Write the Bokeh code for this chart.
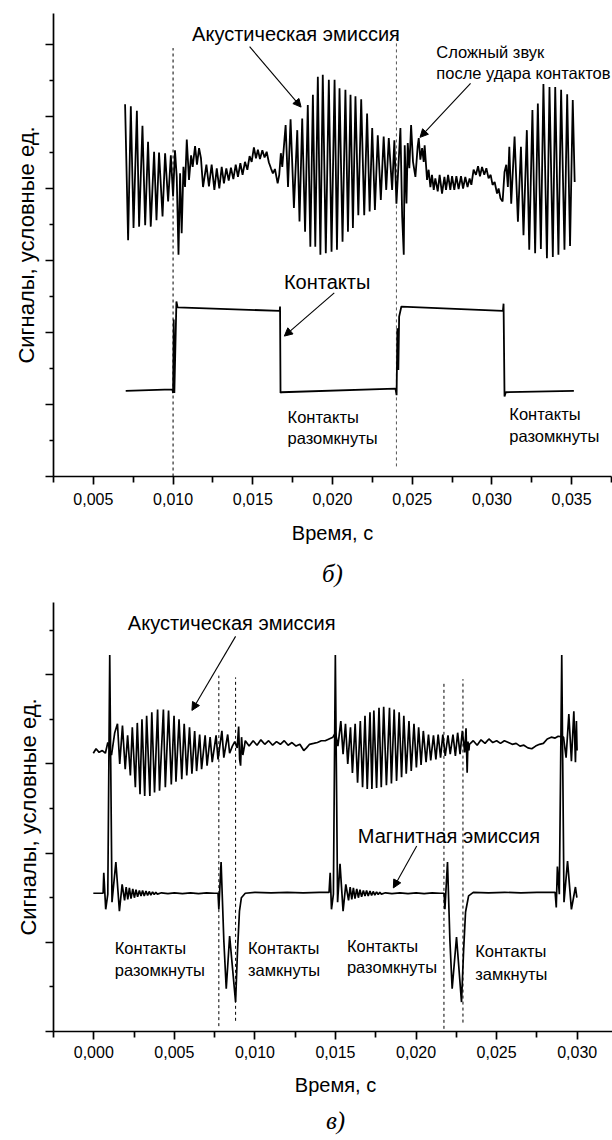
from bokeh.plotting import figure
from bokeh.models import (FixedTicker, CustomJSTickFormatter, Label, Arrow,
                          NormalHead, Range1d, Title)
from bokeh.layouts import column
from bokeh.embed import file_html
from bokeh.resources import INLINE

SANS = "Liberation Sans"
SERIF = "Liberation Serif"
MS = 1e-3  # data below is given in milliseconds

# ---------------- panel "б" ----------------
b_xticks = [0.005, 0.010, 0.015, 0.020, 0.025, 0.030, 0.035]
b_xminor = [0.0025, 0.0075, 0.0125, 0.0175, 0.0225, 0.0275, 0.0325, 0.0375]
b_yticks = [0, 1, 2, 3, 4, 5, 6]
b_yminor = [0.5, 1.5, 2.5, 3.5, 4.5, 5.5]

# acoustic emission (time ms, signal units)
b_acoustic = [
    (6.99, 5.17), (7.18, 3.28), (7.35, 5.14), (7.52, 3.45), (7.73, 5.08), (7.87, 3.47),
    (8.08, 4.87), (8.25, 3.49), (8.43, 4.65), (8.60, 3.47), (8.81, 4.51), (8.96, 3.56),
    (9.12, 4.50), (9.34, 3.61), (9.50, 4.49), (9.69, 3.82), (9.86, 4.46),
    (10.00, 3.89), (10.12, 4.53), (10.23, 4.16), (10.34, 3.08), (10.44, 4.21), (10.54, 3.38),
    (10.65, 4.30), (10.75, 4.02), (10.86, 4.68), (11.00, 4.12), (11.13, 4.46), (11.23, 4.30),
    (11.38, 4.59), (11.50, 4.33), (11.63, 4.56), (11.75, 4.42), (11.88, 4.02),
    (12.09, 4.33), (12.25, 4.03), (12.42, 4.33), (12.59, 3.98), (12.74, 4.28), (12.90, 4.00),
    (13.05, 4.30), (13.19, 4.07), (13.34, 4.28), (13.49, 4.11), (13.63, 4.29), (13.78, 4.13),
    (13.93, 4.33), (14.07, 4.16), (14.22, 4.35), (14.36, 4.19), (14.51, 4.37), (14.66, 4.26),
    (14.80, 4.45), (14.93, 4.37), (15.07, 4.57), (15.20, 4.42), (15.32, 4.54), (15.45, 4.41),
    (15.60, 4.53), (15.74, 4.43), (15.87, 4.51), (16.01, 4.36), (16.14, 4.28), (16.26, 4.21),
    (16.39, 4.27), (16.56, 4.07), (16.66, 4.19), (16.76, 4.49), (16.85, 4.30),
    (17.06, 4.88), (17.21, 4.02), (17.37, 4.96), (17.58, 3.73), (17.79, 4.81), (17.93, 3.54),
    (18.10, 4.97), (18.28, 3.40), (18.45, 5.16), (18.61, 3.19), (18.77, 5.30), (18.92, 3.19),
    (19.08, 5.55), (19.24, 3.08), (19.39, 5.58), (19.58, 3.10), (19.77, 5.51), (19.94, 3.12),
    (20.13, 5.51), (20.28, 3.15), (20.44, 5.39), (20.63, 3.26), (20.81, 5.37), (20.97, 3.40),
    (21.13, 5.30), (21.28, 3.45), (21.44, 5.28), (21.62, 3.63), (21.80, 5.24), (21.99, 3.63),
    (22.17, 5.04), (22.33, 3.68), (22.49, 4.84), (22.66, 3.70), (22.84, 4.74), (23.03, 3.84),
    (23.21, 4.72), (23.37, 3.98), (23.53, 4.70), (23.74, 3.98), (23.88, 4.67),
    (24.01, 3.79), (24.26, 4.84), (24.37, 3.61), (24.47, 3.08), (24.53, 4.60), (24.64, 3.79),
    (24.72, 4.63), (24.82, 4.28), (24.93, 4.88), (25.05, 4.37), (25.20, 4.16), (25.34, 4.58),
    (25.41, 4.70), (25.51, 4.40), (25.62, 4.56), (25.72, 4.37), (25.78, 4.60), (25.93, 4.12),
    (26.03, 4.26), (26.14, 4.02), (26.24, 4.19), (26.35, 3.98), (26.45, 4.14), (26.60, 3.96),
    (26.72, 4.19), (26.87, 3.93), (27.02, 4.16), (27.12, 3.98), (27.25, 4.19), (27.39, 3.98),
    (27.50, 4.17), (27.64, 3.98), (27.77, 4.17), (27.91, 3.99), (28.06, 4.17), (28.19, 4.00),
    (28.33, 4.16), (28.47, 4.02), (28.60, 4.14), (28.71, 4.05), (28.85, 4.26), (29.00, 4.19),
    (29.13, 4.31), (29.25, 4.17), (29.38, 4.30), (29.52, 4.19), (29.65, 4.28), (29.79, 4.14),
    (29.92, 4.19), (30.04, 4.05), (30.17, 4.09), (30.32, 3.93), (30.42, 4.00), (30.54, 3.86),
    (30.67, 3.82), (30.79, 4.23),
    (30.90, 4.33), (31.00, 4.02), (31.09, 4.58), (31.21, 3.79), (31.42, 4.72), (31.63, 3.54),
    (31.82, 4.58), (31.98, 3.35), (32.19, 4.81), (32.34, 3.15), (32.54, 5.09), (32.71, 3.10),
    (32.88, 5.18), (33.07, 3.16), (33.23, 5.45), (33.45, 3.03), (33.61, 5.41), (33.82, 3.05),
    (33.97, 5.41), (34.17, 3.08), (34.34, 5.37), (34.55, 3.15), (34.72, 5.31), (34.90, 3.20),
    (35.07, 5.23), (35.19, 4.09),
]

# contact signal
b_contacts = [
    (7.03, 1.19), (9.96, 1.21), (10.00, 1.16), (10.04, 2.18), (10.08, 1.16), (10.21, 2.43),
    (10.28, 2.35), (16.69, 2.30), (16.71, 2.36), (16.74, 1.16), (16.78, 1.17), (23.95, 1.22),
    (24.02, 1.13), (24.07, 2.06), (24.13, 1.48), (24.18, 2.22), (24.32, 2.36), (30.69, 2.30),
    (30.73, 2.40), (30.79, 1.11), (30.87, 1.17), (35.14, 1.19),
]

b_marker_ms = [10.00, 24.01]
b_marker_top = [5.95, 6.16]
b_marker_bottom = [0.0, 0.14]

# ---------------- panel "в" ----------------
v_xticks = [0.000, 0.005, 0.010, 0.015, 0.020, 0.025, 0.030]
v_xminor = [-0.0025, 0.0025, 0.0075, 0.0125, 0.0175, 0.0225, 0.0275, 0.0325]
v_yticks = [0, 1, 2, 3, 4]
v_yminor = [0.5, 1.5, 2.5, 3.5, 4.5]

v_acoustic = [
    (-0.03, 3.12), (0.14, 3.17), (0.33, 3.13), (0.53, 3.15), (0.72, 3.12), (0.87, 3.24),
    (1.10, 3.10), (1.30, 3.35),
    (1.47, 3.45), (1.61, 3.00), (1.78, 3.43), (1.95, 2.94), (2.10, 3.32), (2.27, 2.87),
    (2.39, 3.41), (2.58, 2.74), (2.70, 3.46), (2.87, 2.66), (2.99, 3.50), (3.16, 2.64),
    (3.28, 3.54), (3.48, 2.64), (3.60, 3.58), (3.77, 2.68), (3.96, 3.61), (4.08, 2.70),
    (4.32, 3.61), (4.44, 2.74), (4.64, 3.60), (4.81, 2.77), (4.98, 3.54), (5.10, 2.80),
    (5.29, 3.50), (5.46, 2.83), (5.61, 3.45), (5.77, 2.87), (5.94, 3.41), (6.09, 2.89),
    (6.26, 3.37), (6.38, 2.92), (6.57, 3.33), (6.69, 2.94), (6.91, 3.32), (7.03, 2.98),
    (7.22, 3.30), (7.35, 3.02), (7.59, 3.32), (7.71, 3.05), (7.95, 3.37), (8.07, 3.07),
    (8.31, 3.33), (8.43, 3.12),
    (8.60, 3.20), (8.75, 3.25), (8.90, 3.18), (8.99, 3.42), (9.05, 3.05), (9.11, 2.98),
    (9.17, 3.30), (9.25, 3.10), (9.35, 3.20),
    (9.40, 3.26), (9.64, 3.20), (9.89, 3.26), (10.13, 3.21), (10.37, 3.27), (10.61, 3.22),
    (10.85, 3.26), (11.10, 3.21), (11.34, 3.25), (11.58, 3.22), (11.82, 3.26), (12.06, 3.21),
    (12.30, 3.24), (12.55, 3.20), (12.79, 3.22), (13.03, 3.15), (13.20, 3.18), (13.39, 3.22),
    (13.64, 3.23), (13.88, 3.24), (14.12, 3.26), (14.36, 3.26), (14.60, 3.28), (14.84, 3.30),
    (15.00, 3.35), (15.15, 3.20),
    (15.33, 3.48), (15.47, 3.11), (15.62, 3.45), (15.76, 3.00), (15.93, 3.41), (16.05, 2.90),
    (16.22, 3.45), (16.37, 2.79), (16.54, 3.48), (16.68, 2.74), (16.83, 3.54), (16.97, 2.72),
    (17.14, 3.58), (17.26, 2.72), (17.38, 3.60), (17.55, 2.73), (17.70, 3.63), (17.84, 2.74),
    (17.99, 3.64), (18.16, 2.76), (18.35, 3.63), (18.47, 2.78), (18.64, 3.61), (18.79, 2.81),
    (18.95, 3.58), (19.10, 2.85), (19.24, 3.54), (19.39, 2.89), (19.56, 3.48), (19.70, 2.92),
    (19.87, 3.45), (20.02, 2.96), (20.16, 3.41), (20.31, 2.99), (20.45, 3.37), (20.62, 3.02),
    (20.77, 3.33), (20.91, 3.04), (21.08, 3.32), (21.23, 3.05), (21.37, 3.33), (21.52, 3.07),
    (21.66, 3.33), (21.81, 3.09), (21.98, 3.32), (22.12, 3.11), (22.29, 3.33), (22.44, 3.09),
    (22.58, 3.35), (22.73, 3.11), (22.87, 3.37), (23.02, 3.13),
    (23.10, 3.40), (23.17, 2.90), (23.22, 3.25), (23.28, 3.15),
    (23.31, 3.22), (23.55, 3.26), (23.79, 3.21), (24.03, 3.27), (24.28, 3.23), (24.52, 3.28),
    (24.76, 3.24), (25.00, 3.26), (25.24, 3.23), (25.48, 3.26), (25.73, 3.24), (25.97, 3.22),
    (26.21, 3.23), (26.45, 3.20), (26.69, 3.21), (26.94, 3.18), (27.18, 3.17), (27.42, 3.20),
    (27.66, 3.22), (27.90, 3.23), (28.14, 3.28), (28.39, 3.30), (28.63, 3.29), (28.82, 3.31),
    (29.15, 3.30), (29.31, 3.07), (29.48, 3.56), (29.64, 3.03), (29.79, 3.59), (29.89, 3.02),
    (29.95, 3.48), (29.99, 3.15),
]

v_magnetic = [
    (-0.03, 1.55), (0.58, 1.55), (0.62, 1.78), (0.74, 1.37), (0.87, 1.54), (0.99, 4.22),
    (1.13, 1.45), (1.37, 1.90), (1.59, 1.35), (1.76, 1.65), (1.91, 1.47), (2.01, 1.62),
    (2.11, 1.48), (2.21, 1.61), (2.31, 1.49), (2.42, 1.60), (2.52, 1.50), (2.62, 1.59),
    (2.72, 1.51), (2.83, 1.58), (2.93, 1.52), (3.03, 1.58), (3.13, 1.52), (3.24, 1.575),
    (3.34, 1.525), (3.44, 1.57), (3.54, 1.53), (3.65, 1.565), (3.75, 1.535), (3.85, 1.56),
    (3.95, 1.54), (4.2, 1.555), (4.6, 1.545), (5.0, 1.555), (5.5, 1.545), (6.0, 1.555),
    (6.5, 1.545), (7.0, 1.555), (7.5, 1.55), (7.71, 1.55),
    (7.76, 1.37), (7.90, 1.90), (8.07, 1.02), (8.22, 0.48), (8.43, 1.07), (8.80, 0.33),
    (8.92, 0.91), (9.04, 1.35), (9.16, 1.50), (9.40, 1.55),
    (10.0, 1.56), (11.0, 1.555), (12.0, 1.56), (13.0, 1.555), (14.0, 1.56), (14.60, 1.56),
    (14.67, 1.78), (14.75, 1.37), (14.87, 1.54), (14.99, 4.22), (15.13, 1.45), (15.28, 1.88),
    (15.47, 1.35), (15.64, 1.65), (15.81, 1.47), (15.91, 1.62), (16.01, 1.48), (16.11, 1.61),
    (16.21, 1.49), (16.32, 1.60), (16.42, 1.50), (16.52, 1.59), (16.62, 1.51), (16.73, 1.58),
    (16.83, 1.52), (16.93, 1.58), (17.03, 1.52), (17.14, 1.575), (17.24, 1.525), (17.34, 1.57),
    (17.44, 1.53), (17.55, 1.565), (17.65, 1.535), (17.75, 1.56), (17.85, 1.54), (18.1, 1.555),
    (18.5, 1.545), (19.0, 1.555), (19.5, 1.545), (20.0, 1.555), (20.5, 1.545), (21.0, 1.555),
    (21.5, 1.55), (21.74, 1.55),
    (21.79, 1.37), (21.95, 1.90), (22.10, 1.02), (22.24, 0.48), (22.51, 1.06), (22.82, 0.33),
    (22.95, 0.91), (23.07, 1.34), (23.26, 1.52), (23.55, 1.56),
    (24.5, 1.555), (25.5, 1.56), (26.5, 1.555), (27.5, 1.56), (28.63, 1.56),
    (28.70, 1.39), (28.77, 1.85), (28.89, 1.54), (29.04, 4.22), (29.18, 1.45), (29.40, 1.91),
    (29.64, 1.37), (29.89, 1.62), (29.98, 1.50),
]

v_marker_ms = [7.76, 8.80, 21.73, 22.91]
v_marker_top = [3.99, 3.97, 3.93, 3.95]
v_marker_bottom = [0.06, 0.12, 0.03, 0.10]

Y_LABEL = "Сигналы, условные ед."


def ms(pairs):
    return [t * MS for t, _ in pairs], [v for _, v in pairs]


def base_fig(xr, yr, fw, fh, bl, bt, bb, br):
    p = figure(x_range=Range1d(*xr), y_range=Range1d(*yr), frame_width=fw, frame_height=fh,
               min_border_left=bl, min_border_top=bt, min_border_bottom=bb, min_border_right=br,
               output_backend="svg", toolbar_location=None)
    p.grid.visible = False
    p.outline_line_color = None
    p.background_fill_color = "white"
    p.border_fill_color = "white"
    return p


def style_axes(p, xt, xm, yt, ym, lab_standoff, axlab_standoff, y_pad):
    xa = p.xaxis[0]
    xa.ticker = FixedTicker(ticks=xt, minor_ticks=xm)
    xa.formatter = CustomJSTickFormatter(code="return tick.toFixed(3).replace('.', ',');")
    ya = p.yaxis[0]
    ya.ticker = FixedTicker(ticks=yt, minor_ticks=ym)
    ya.formatter = CustomJSTickFormatter(code="return '';")
    ya.major_label_text_font_size = "1px"
    ya.major_label_standoff = y_pad
    for ax in (xa, ya):
        ax.axis_line_width = 1.7
        ax.axis_line_color = "black"
        ax.major_tick_line_width = 1.7
        ax.minor_tick_line_width = 1.7
        ax.major_tick_line_color = "black"
        ax.minor_tick_line_color = "black"
        ax.major_tick_in = 0
        ax.minor_tick_in = 0
        ax.major_tick_out = 8
    xa.minor_tick_out = 6
    ya.minor_tick_out = 4
    xa.major_label_text_font = SANS
    xa.major_label_text_font_size = "16px"
    xa.major_label_text_color = "black"
    xa.major_label_standoff = lab_standoff
    xa.axis_label = "Время, с"
    xa.axis_label_text_font = SANS
    xa.axis_label_text_font_size = "20px"
    xa.axis_label_text_font_style = "normal"
    xa.axis_label_text_color = "black"
    xa.axis_label_standoff = axlab_standoff


def add_text(p, x, y, text, size, align="left"):
    p.add_layout(Label(x=x, y=y, text=text, text_font=SANS, text_font_size=size,
                       text_align=align, text_baseline="middle", text_color="black"))


def add_arrow(p, x0, y0, x1, y1):
    p.add_layout(Arrow(end=NormalHead(size=8, fill_color="black", line_color="black", line_width=1),
                       x_start=x0, y_start=y0, x_end=x1, y_end=y1,
                       line_width=1.1, line_color="black"))


def add_ylabel(p, offset, standoff):
    p.add_layout(Title(text=Y_LABEL, align="center", offset=offset, standoff=standoff,
                       text_font=SANS, text_font_size="22px", text_font_style="normal",
                       text_color="black"), "left")


def add_caption(p, text, offset, standoff):
    p.add_layout(Title(text=text, align="center", offset=offset, standoff=standoff,
                       text_font=SERIF, text_font_size="25px", text_font_style="italic",
                       text_color="black"), "below")


# ---------- figure б ----------
p1 = base_fig((0.0025, 0.0375), (0, 6.43), 558, 463, 53, 13, 126, 1)
style_axes(p1, b_xticks, b_xminor, b_yticks, b_yminor, 8, 14, 5)

for t, top, bot, col in zip(b_marker_ms, b_marker_top, b_marker_bottom, ["black", "#555555"]):
    p1.segment(x0=[t * MS], y0=[bot], x1=[t * MS], y1=[top], line_color=col,
               line_width=1, line_dash="3 3")

x, y = ms(b_acoustic)
p1.line(x, y, line_color="black", line_width=1.8)
x, y = ms(b_contacts)
p1.line(x, y, line_color="black", line_width=1.8)

add_text(p1, 17.71 * MS, 6.15, "Акустическая эмиссия", "20px", "center")
add_arrow(p1, 14.80 * MS, 5.97, 18.03 * MS, 5.13)
add_text(p1, 26.51 * MS, 5.90, "Сложный звук", "16.5px")
add_text(p1, 26.51 * MS, 5.60, "после удара контактов", "16.5px")
add_arrow(p1, 28.66 * MS, 5.46, 25.49 * MS, 4.71)
add_text(p1, 19.66 * MS, 2.70, "Контакты", "20px", "center")
add_arrow(p1, 20.11 * MS, 2.55, 16.98 * MS, 1.95)
add_text(p1, 17.18 * MS, 0.83, "Контакты", "16.5px")
add_text(p1, 17.18 * MS, 0.53, "разомкнуты", "16.5px")
add_text(p1, 31.09 * MS, 0.87, "Контакты", "16.5px")
add_text(p1, 31.09 * MS, 0.56, "разомкнуты", "16.5px")

add_ylabel(p1, 25, 13)
add_caption(p1, "б)", -22, 22)

# ---------- figure в ----------
p2 = base_fig((-0.0025, 0.0325), (0, 4.81), 564, 429, 48, 0, 109, 0)
style_axes(p2, v_xticks, v_xminor, v_yticks, v_yminor, 6, 13, 3)

for t, top, bot in zip(v_marker_ms, v_marker_top, v_marker_bottom):
    p2.segment(x0=[t * MS], y0=[bot], x1=[t * MS], y1=[top], line_color="black",
               line_width=1, line_dash="3 3")

x, y = ms(v_acoustic)
p2.line(x, y, line_color="black", line_width=1.7)
x, y = ms(v_magnetic)
p2.line(x, y, line_color="black", line_width=1.7)

add_text(p2, 8.56 * MS, 4.585, "Акустическая эмиссия", "20px", "center")
add_arrow(p2, 8.80 * MS, 4.43, 6.09 * MS, 3.60)
add_text(p2, 22.04 * MS, 2.19, "Магнитная эмиссия", "20px", "center")
add_arrow(p2, 20.04 * MS, 2.08, 18.59 * MS, 1.61)
add_text(p2, 1.30 * MS, 0.935, "Контакты", "16.5px")
add_text(p2, 1.30 * MS, 0.688, "разомкнуты", "16.5px")
add_text(p2, 9.57 * MS, 0.935, "Контакты", "16.5px")
add_text(p2, 9.57 * MS, 0.688, "замкнуты", "16.5px")
add_text(p2, 15.71 * MS, 0.961, "Контакты", "16.5px")
add_text(p2, 15.71 * MS, 0.725, "разомкнуты", "16.5px")
add_text(p2, 23.67 * MS, 0.897, "Контакты", "16.5px")
add_text(p2, 23.67 * MS, 0.650, "замкнуты", "16.5px")

add_ylabel(p2, 6, 9)
add_caption(p2, "в)", -20, 12)

layout = column(p1, p2, spacing=0)
open("out.html", "w").write(file_html(layout, INLINE))
